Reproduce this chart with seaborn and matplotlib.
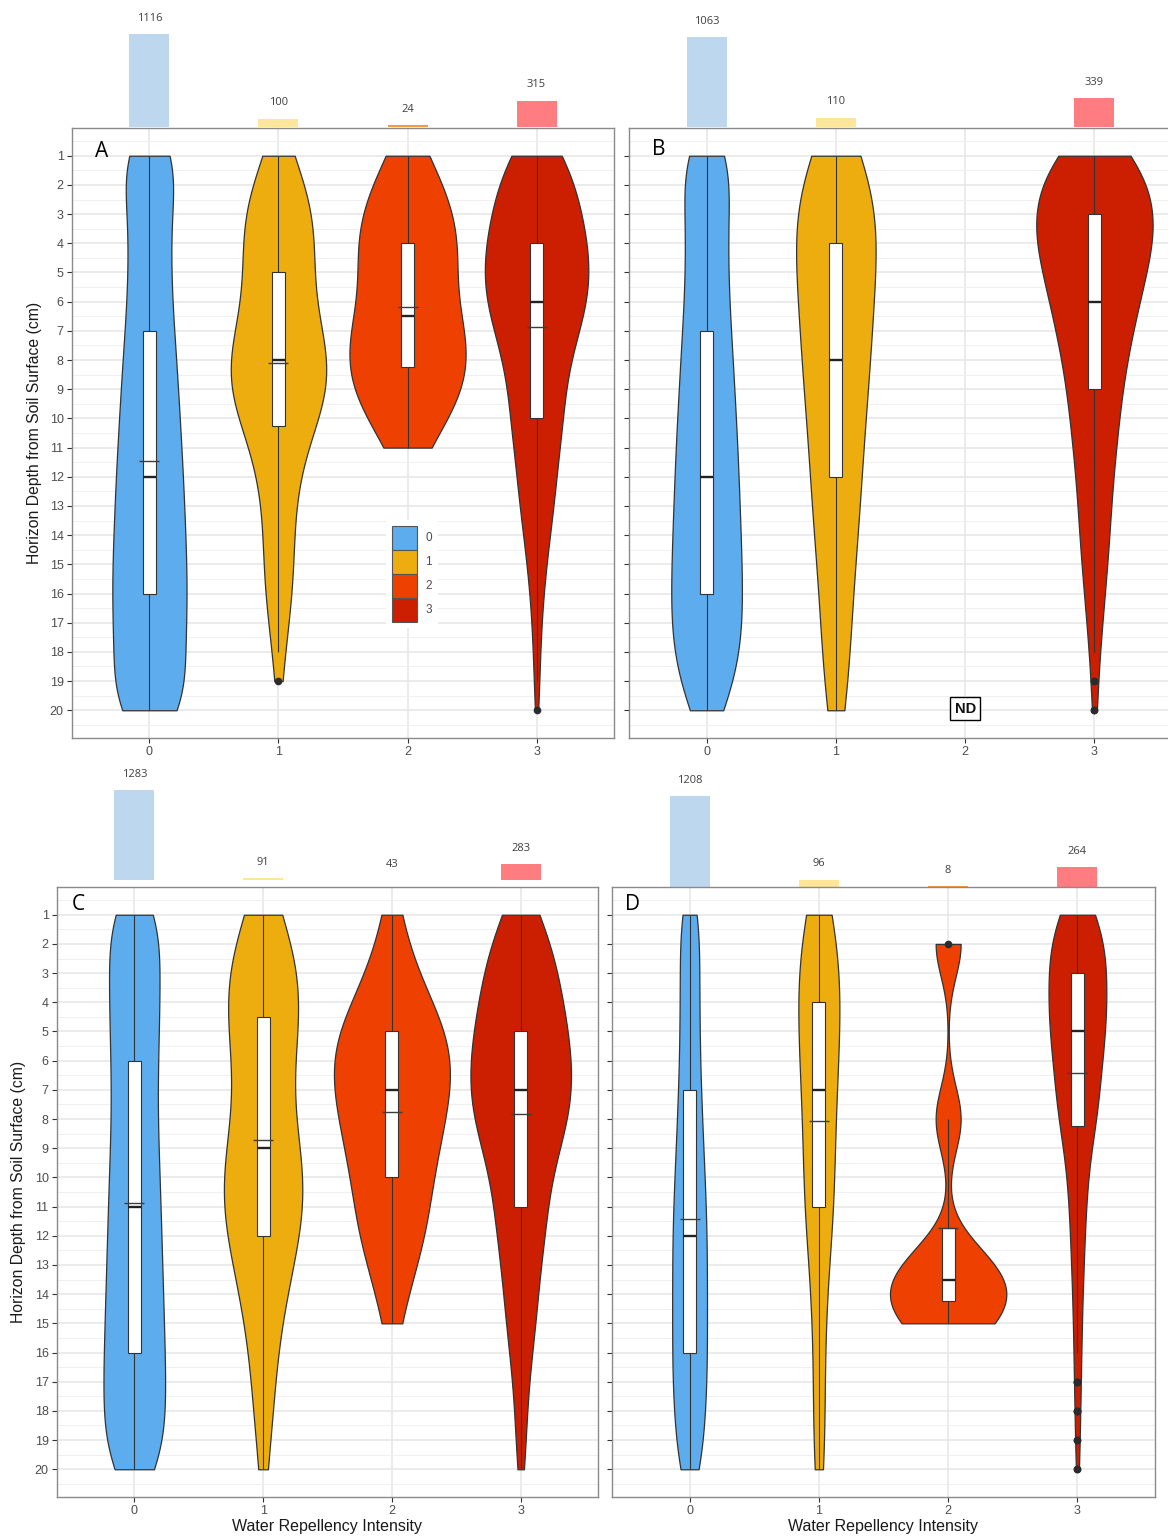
import numpy as np
import pandas as pd
import matplotlib
matplotlib.use("Agg")
import matplotlib.pyplot as plt
from matplotlib.patches import Patch
from matplotlib.ticker import FixedLocator
import seaborn as sns

# ---------------------------------------------------------------------------
# Data: number of horizons observed at each depth (1..20 cm) per water
# repellency intensity class, one list per class and per site (A-D).
# ---------------------------------------------------------------------------
DEPTHS = np.arange(1, 21)
CLASSES = ["0", "1", "2", "3"]

a_class0 = [72, 40, 38, 38, 38, 40, 44, 48, 51, 54, 57, 60, 62, 64, 66, 68, 66, 63, 58, 89]
a_class1 = [3, 6, 7, 8, 6, 7, 8, 11, 11, 8, 5, 4, 3, 3, 3, 3, 2, 1, 1, 0]
a_class2 = [1, 2, 2, 3, 2, 2, 3, 3, 3, 2, 1, 0, 0, 0, 0, 0, 0, 0, 0, 0]
a_class3 = [21, 24, 28, 32, 34, 33, 26, 20, 17, 17, 14, 12, 11, 8, 6, 4, 3, 2, 2, 1]

b_class0 = [58, 42, 40, 40, 40, 42, 46, 49, 52, 55, 58, 60, 62, 64, 66, 67, 68, 64, 52, 38]
b_class1 = [7, 8, 9, 8, 8, 7, 7, 7, 6, 6, 5, 5, 5, 4, 4, 3, 3, 3, 2, 3]
b_class2 = [0] * 20
b_class3 = [30, 34, 38, 37, 30, 28, 22, 20, 16, 15, 13, 11, 10, 9, 8, 6, 5, 3, 2, 2]

c_class0 = [75, 58, 60, 60, 58, 56, 54, 55, 57, 60, 62, 64, 66, 68, 70, 72, 74, 74, 72, 68]
c_class1 = [4, 5, 7, 7, 6, 5, 4, 5, 6, 8, 8, 6, 5, 4, 3, 2, 2, 2, 1, 1]
c_class2 = [1, 1, 2, 3, 5, 5, 5, 4, 4, 3, 3, 3, 2, 1, 1, 0, 0, 0, 0, 0]
c_class3 = [12, 16, 20, 22, 25, 27, 28, 26, 20, 15, 14, 13, 10, 9, 8, 6, 4, 3, 3, 2]

d_class0 = [50, 42, 42, 43, 44, 45, 50, 55, 60, 66, 72, 75, 76, 76, 76, 76, 76, 69, 60, 55]
d_class1 = [7, 7, 8, 8, 7, 7, 6, 6, 5, 5, 7, 4, 3, 3, 2, 2, 2, 2, 2, 3]
d_class2 = [0, 1, 0, 0, 0, 0, 0, 1, 0, 0, 0, 0, 2, 2, 2, 0, 0, 0, 0, 0]
d_class3 = [22, 28, 28, 28, 28, 23, 21, 20, 12, 10, 8, 7, 6, 5, 4, 4, 3, 3, 2, 2]

# Sample totals printed above each panel
a_totals = [1116, 100, 24, 315]
b_totals = [1063, 110, 0, 339]
c_totals = [1283, 91, 43, 283]
d_totals = [1208, 96, 8, 264]

# ---------------------------------------------------------------------------
# Styling
# ---------------------------------------------------------------------------
VIOLIN_COLORS = {"0": "#5CACEE", "1": "#EEAD0E", "2": "#EE4000", "3": "#CC1E00"}
BAR_COLORS = {"0": "#BDD7EE", "1": "#FFE699", "2": "#F59B3A", "3": "#FF7C80"}
OUTLINE = "#333333"
TICK_TEXT = "#4D4D4D"
TITLE_TEXT = "#1A1A1A"

plt.rcParams["font.family"] = ["Liberation Sans", "DejaVu Sans"]

W, H = 1168, 1539
fig = plt.figure(figsize=(W / 100, H / 100), dpi=100)
fig.patch.set_facecolor("white")


def px_axes(x0, y0, x1, y1):
    """Axes placed by pixel box (left, top, right, bottom)."""
    return fig.add_axes([x0 / W, 1 - y1 / H, (x1 - x0) / W, (y1 - y0) / H])


def nrd0(kde):
    """Silverman's rule of thumb bandwidth, returned as a kde factor."""
    x = np.asarray(kde.dataset, dtype=float).ravel()
    sd = x.std(ddof=1)
    q75, q25 = np.percentile(x, [75, 25])
    lo = min(sd, (q75 - q25) / 1.34)
    if lo <= 0:
        lo = sd if sd > 0 else 1.0
    bw = 0.9 * lo * x.size ** -0.2
    return bw / sd if sd > 0 else 1.0


def long_table(counts):
    cls = np.concatenate([np.repeat(c, int(np.sum(n))) for c, n in zip(CLASSES, counts)])
    depth = np.concatenate([np.repeat(DEPTHS, n) for n in counts]).astype(float)
    return pd.DataFrame({"cls": cls, "depth": depth})


def violins(ax, df, **kws):
    sns.violinplot(
        data=df, x="cls", y="depth", hue="cls", order=CLASSES, hue_order=CLASSES,
        palette=VIOLIN_COLORS, cut=0, bw_method=nrd0, inner=None,
        linewidth=0.9, linecolor=OUTLINE, saturation=1, gridsize=512,
        legend=False, ax=ax, **kws,
    )


def draw_violins(ax, counts, letter, show_ylabels, show_means=True, own_width=None):
    df = long_table(counts)
    own_width = own_width or {}
    shared = df[~df["cls"].isin(list(own_width))]
    violins(ax, shared, density_norm="area", common_norm=True, width=0.9)
    for cls, w in own_width.items():
        violins(ax, df[df["cls"] == cls], density_norm="width", width=w)

    sns.boxplot(
        data=df, x="cls", y="depth", order=CLASSES, width=0.1, color="white",
        linecolor=OUTLINE, linewidth=0.8, saturation=1, showcaps=False,
        medianprops={"color": "#222222", "linewidth": 1.7},
        flierprops={"marker": "o", "markerfacecolor": "#2b2b2b",
                    "markeredgecolor": "#2b2b2b", "markersize": 4.5},
        ax=ax,
    )
    if show_means:
        sns.pointplot(
            data=df, x="cls", y="depth", order=CLASSES, estimator="mean",
            errorbar=None, color="#3c3c3c", marker="_", markersize=15,
            markeredgewidth=1.0, linestyle="none", ax=ax,
        )

    ax.set_xlim(-0.6, 3.6)
    ax.set_ylim(20.95, 0.05)
    ax.set_xticks(range(4), labels=CLASSES)
    ax.set_yticks(DEPTHS, labels=[str(d) for d in DEPTHS] if show_ylabels else [])
    ax.yaxis.set_minor_locator(FixedLocator(np.arange(0.5, 21.0, 1.0)))
    ax.grid(True, which="major", color="#E6E6E6", linewidth=1.1)
    ax.grid(True, which="minor", axis="y", color="#F0F0F0", linewidth=0.7)
    ax.set_axisbelow(True)
    ax.tick_params(which="minor", length=0)
    ax.tick_params(which="major", length=3.5, width=0.8, color="#333333",
                   labelcolor=TICK_TEXT, labelsize=9, pad=2.5)
    for s in ax.spines.values():
        s.set_color("#8A8A8A")
        s.set_linewidth(1.0)
    ax.set_xlabel("")
    ax.set_ylabel("")
    ax.text(*letter[1], letter[0], transform=ax.transAxes, ha="center",
            va="center", fontsize=15, color="black", family=["Open Sans", "DejaVu Sans"])


def draw_bars(ax, totals, floor, top):
    sns.barplot(x=CLASSES, y=totals, hue=CLASSES, palette=BAR_COLORS, width=0.31,
                saturation=1, legend=False, ax=ax)
    for i, v in enumerate(totals):
        if v > 0:
            ax.annotate(str(v), (i, max(v, floor)), xytext=(0, 11.5),
                        textcoords="offset points", ha="center", va="center",
                        fontsize=8, color="#404040",
                        family=["Open Sans", "DejaVu Sans"])
    ax.set_xlim(-0.6, 3.6)
    ax.set_ylim(floor, top)
    ax.axis("off")


# ----- Panel A -----
bars_a = px_axes(72, 0, 614, 127)
draw_bars(bars_a, a_totals, 0, 1525)
ax_a = px_axes(72, 128, 614, 738)
draw_violins(ax_a, [a_class0, a_class1, a_class2, a_class3], ("A", (0.054, 0.961)),
             True, own_width={"0": 0.575})
ax_a.set_ylabel("Horizon Depth from Soil Surface (cm)", fontsize=11.3, color=TITLE_TEXT)
ax_a.yaxis.set_label_coords(-0.056, 0.5)
handles = [Patch(facecolor=VIOLIN_COLORS[c], edgecolor="#555555", linewidth=0.8) for c in CLASSES]
ax_a.legend(handles, CLASSES, loc="center", bbox_to_anchor=(0.627, 0.269),
            fontsize=8.5, handlelength=2.1, handleheight=2.75, labelspacing=0,
            handletextpad=0.7, borderpad=0.5, frameon=True, facecolor="white",
            edgecolor="none", framealpha=1, fancybox=False, labelcolor=TICK_TEXT)

# ----- Panel B -----
bars_b = px_axes(629, 0, 1172, 127)
draw_bars(bars_b, b_totals, 0, 1503)
ax_b = px_axes(629, 128, 1172, 738)
draw_violins(ax_b, [b_class0, b_class1, b_class2, b_class3], ("B", (0.055, 0.964)),
             False, show_means=False)
ax_b.text(2, 19.95, "ND", ha="center", va="center", fontsize=10.5, fontweight="bold",
          color="#111111",
          bbox={"boxstyle": "square,pad=0.3", "facecolor": "white",
                "edgecolor": "black", "linewidth": 1.0})

# ----- Panel C -----
bars_c = px_axes(57, 757, 598, 880)
draw_bars(bars_c, c_totals, 67, 1729)
ax_c = px_axes(57, 887, 598, 1497)
draw_violins(ax_c, [c_class0, c_class1, c_class2, c_class3], ("C", (0.039, 0.972)), True)
ax_c.set_ylabel("Horizon Depth from Soil Surface (cm)", fontsize=11.3, color=TITLE_TEXT)
ax_c.yaxis.set_label_coords(-0.057, 0.5)
ax_c.set_xlabel("Water Repellency Intensity", fontsize=11.5, color=TITLE_TEXT)
ax_c.xaxis.set_label_coords(0.5, -0.036)

# ----- Panel D -----
bars_d = px_axes(612, 757, 1155, 887)
draw_bars(bars_d, d_totals, 0, 1726)
ax_d = px_axes(612, 887, 1155, 1497)
draw_violins(ax_d, [d_class0, d_class1, d_class2, d_class3], ("D", (0.037, 0.972)), False)
ax_d.set_xlabel("Water Repellency Intensity", fontsize=11.5, color=TITLE_TEXT)
ax_d.xaxis.set_label_coords(0.5, -0.036)

fig.savefig("out.png", dpi=100, facecolor="white")
